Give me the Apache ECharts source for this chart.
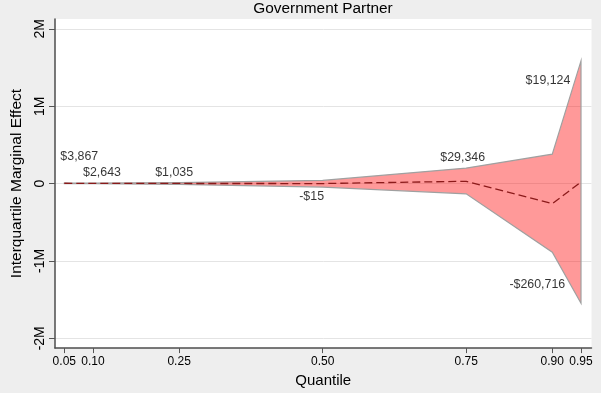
<!DOCTYPE html>
<html>
<head>
<meta charset="utf-8">
<style>
  html, body { margin: 0; padding: 0; background: #eeeeee; }
  #chart { width: 601px; height: 393px; }
</style>
<script src="https://cdn.jsdelivr.net/npm/echarts@6/dist/echarts.min.js"></script>
</head>
<body>
<div id="chart"></div>
<script>
// Quantiles of the outcome distribution and the interquartile marginal effect at each
const quantiles = [0.05, 0.10, 0.25, 0.50, 0.75, 0.90, 0.95];
const estimates = [3867, 2643, 1035, -15, 29346, -260716, 19124];
// Confidence band around the estimates
const upperBound = [7000, 7000, 13000, 40000, 200000, 380000, 1585000];
const lowerBound = [-1000, -2000, -11000, -45000, -133000, -888000, -1547000];
// Axis ticks
const xTicks = [0.05, 0.10, 0.25, 0.50, 0.75, 0.90, 0.95];
const yTicks = [-2000000, -1000000, 0, 1000000, 2000000];

// Pixel offsets of the value labels from their points
const labelOffsets = [[15, -27], [9, -11], [-5, -11], [-11, 13.5], [-3.5, -24], [-15, 81], [-33, -101]];

const FONT = 'Liberation Sans, Arial, Helvetica, sans-serif';

function money(v) {
  return (v < 0 ? '-' : '') + '$' + Math.abs(v).toLocaleString('en-US');
}
function millions(v) {
  return v === 0 ? '0' : (v / 1e6) + 'M';
}

const chart = echarts.init(document.getElementById('chart'), null, { renderer: 'canvas' });

chart.setOption({
  backgroundColor: '#eeeeee',
  animation: false,
  textStyle: { fontFamily: FONT },
  graphic: [{
    type: 'text',
    x: 323, y: 1,
    style: {
      text: 'Government Partner',
      textAlign: 'center',
      textVerticalAlign: 'top',
      fontSize: 15.4,
      fontFamily: FONT,
      fill: '#000'
    }
  }],
  grid: {
    left: 55, right: 9.5, top: 19, bottom: 41,
    show: true, backgroundColor: '#ffffff', borderWidth: 0
  },
  xAxis: {
    type: 'value',
    min: 0.0338, max: 0.9683,
    name: 'Quantile',
    nameLocation: 'middle',
    nameGap: 21,
    nameTextStyle: { fontSize: 15, color: '#000', verticalAlign: 'top' },
    axisLine: { onZero: false, lineStyle: { color: '#4d4d4d', width: 1.5 } },
    axisTick: { customValues: xTicks, length: 5, lineStyle: { color: '#555' } },
    axisLabel: {
      customValues: xTicks, margin: 8, fontSize: 12, color: '#000',
      formatter: v => v.toFixed(2)
    },
    splitLine: { show: false }
  },
  yAxis: {
    type: 'value',
    min: -2127000, max: 2127000,
    name: 'Interquartile Marginal Effect',
    nameLocation: 'middle',
    nameGap: 22,
    nameTextStyle: { fontSize: 15.5, color: '#000' },
    axisLine: { show: true, onZero: false, lineStyle: { color: '#4d4d4d', width: 1.5 } },
    axisTick: { show: true, customValues: yTicks, length: 6, lineStyle: { color: '#555' } },
    axisLabel: {
      customValues: yTicks, rotate: 90, margin: 8, fontSize: 14, color: '#000',
      formatter: millions
    },
    splitLine: { show: true, lineStyle: { color: '#e4e4e4', width: 1 } }
  },
  series: [
    {
      // confidence band as one polygon: upper edge left-to-right, lower edge back
      type: 'custom',
      clip: true,
      z: 1,
      data: [0],
      renderItem: function (params, api) {
        const pts = [];
        for (let i = 0; i < quantiles.length; i++) {
          pts.push(api.coord([quantiles[i], upperBound[i]]));
        }
        for (let i = quantiles.length - 1; i >= 0; i--) {
          pts.push(api.coord([quantiles[i], lowerBound[i]]));
        }
        return {
          type: 'polygon',
          shape: { points: pts },
          style: { fill: 'rgba(255,0,0,0.4)', stroke: '#a0a0a0', lineWidth: 1.2 }
        };
      }
    },
    {
      type: 'line',
      z: 3,
      data: quantiles.map((q, i) => [q, estimates[i]]),
      symbol: 'none',
      lineStyle: { color: '#8b1a1a', width: 1.3, type: [8, 4] }
    },
    {
      type: 'scatter',
      z: 4,
      symbolSize: 0,
      data: quantiles.map((q, i) => ({
        value: [q, estimates[i]],
        label: { offset: labelOffsets[i] }
      })),
      label: {
        show: true,
        position: 'inside',
        fontSize: 12.4,
        color: '#000',
        formatter: p => money(p.value[1])
      }
    }
  ]
});
</script>
</body>
</html>
